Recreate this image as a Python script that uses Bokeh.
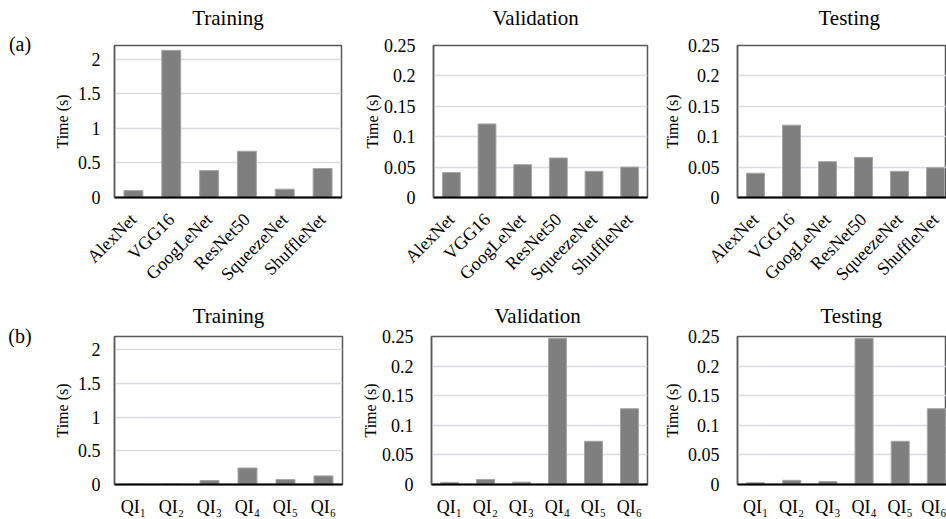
import math
from bokeh.plotting import figure
from bokeh.layouts import row, column
from bokeh.models import Range1d, FixedTicker, Div, Title
from bokeh.embed import file_html
from bokeh.resources import INLINE

FONT = "Liberation Serif"

# ---- data ----
models = ["AlexNet", "VGG16", "GoogLeNet", "ResNet50", "SqueezeNet", "ShuffleNet"]
train_a = [0.10, 2.13, 0.39, 0.67, 0.12, 0.42]
val_a = [0.041, 0.121, 0.054, 0.065, 0.043, 0.050]
test_a = [0.040, 0.119, 0.059, 0.066, 0.043, 0.049]

qi_labels = ["QI\u2081", "QI\u2082", "QI\u2083", "QI\u2084", "QI\u2085", "QI\u2086"]
train_b = [0.003, 0.008, 0.058, 0.245, 0.073, 0.128]
val_b = [0.0035, 0.0085, 0.004, 0.247, 0.073, 0.128]
test_b = [0.003, 0.007, 0.005, 0.247, 0.073, 0.128]

yticks_train = [0, 0.5, 1, 1.5, 2]
ylabels_train = ["0", "0.5", "1", "1.5", "2"]
yticks_vt = [0, 0.05, 0.1, 0.15, 0.2, 0.25]
ylabels_vt = ["0", "0.05", "0.1", "0.15", "0.2", "0.25"]


def make(title, cats, vals, ymax, yticks, ylabels, left, fw, right, top, fh, bottom,
         xend, rotate, spacer_px, title_standoff, title_offset, ylab_standoff,
         ymaj_standoff, xmaj_standoff):
    p = figure(width=left + fw + right, height=top + fh + bottom,
               min_border_left=left, min_border_right=right,
               min_border_top=top, min_border_bottom=bottom,
               x_range=Range1d(0, xend), y_range=Range1d(0, ymax),
               output_backend="svg", toolbar_location=None, tools="")
    xs = [i + 0.5 for i in range(len(cats))]
    p.vbar(x=xs, top=vals, width=0.5, fill_color="#7f7f7f",
           line_color="#a6a6a6", line_width=1)

    p.background_fill_color = "white"
    p.border_fill_color = "white"
    p.outline_line_color = "#595959"
    p.outline_line_width = 1.5

    # invisible spacer between frame and title
    p.add_layout(Title(text=" ", text_font=FONT, text_font_size=f"{spacer_px}px",
                       standoff=0), "above")

    p.title.text = title
    if title_offset is None:
        p.title.align = "center"
    else:
        p.title.align = "left"
        p.title.offset = title_offset
    p.title.text_font = FONT
    p.title.text_font_size = "21px"
    p.title.text_font_style = "normal"
    p.title.text_color = "black"
    p.title.standoff = title_standoff

    p.xgrid.visible = False
    p.ygrid.grid_line_color = "#d9dce1"
    p.ygrid.grid_line_width = 1.5

    p.xaxis.ticker = FixedTicker(ticks=xs)
    p.xaxis.major_label_overrides = {x: c for x, c in zip(xs, cats)}
    p.xaxis.major_label_text_font = FONT
    p.xaxis.major_label_text_font_size = "18px"
    p.xaxis.major_label_text_color = "black"
    p.xaxis.major_label_standoff = xmaj_standoff
    if rotate:
        p.xaxis.major_label_orientation = math.pi / 4
    p.xaxis.axis_line_color = "black"
    p.xaxis.axis_line_width = 2

    p.yaxis.ticker = FixedTicker(ticks=yticks)
    p.yaxis.major_label_overrides = {t: l for t, l in zip(yticks, ylabels)}
    p.yaxis.major_label_text_font = FONT
    p.yaxis.major_label_text_font_size = "18px"
    p.yaxis.major_label_text_color = "black"
    p.yaxis.major_label_standoff = ymaj_standoff
    p.yaxis.axis_line_color = "#595959"
    p.yaxis.axis_line_width = 1.5
    p.yaxis.axis_label = "Time (s)"
    p.yaxis.axis_label_text_font = FONT
    p.yaxis.axis_label_text_font_size = "16px"
    p.yaxis.axis_label_text_font_style = "normal"
    p.yaxis.axis_label_text_color = "black"
    p.yaxis.axis_label_standoff = ylab_standoff

    p.axis.major_tick_line_color = None
    p.axis.minor_tick_line_color = None
    p.axis.major_tick_out = 0
    p.axis.major_tick_in = 0
    p.axis.minor_tick_out = 0
    p.axis.minor_tick_in = 0
    return p


def tag(text, h, pad):
    return Div(text=text, width=40, height=h, margin=(0, 0, 0, 0),
               styles={"font-family": FONT, "font-size": "20px", "color": "black",
                       "text-align": "center", "padding-top": f"{pad}px",
                       "box-sizing": "border-box", "line-height": "23px"})


# top row (height 294: 45 + 152 + 97)
d1 = tag("(a)", 294, 33)
p1 = make("Training", models, train_a, 2.2, yticks_train, ylabels_train,
          74, 227, 19, 45, 152, 97, 6.0, True, 12, 0, None, 4, 14, 19)
p2 = make("Validation", models, val_a, 0.25, yticks_vt, ylabels_vt,
          71, 216, 13, 45, 152, 97, 6.0, True, 12, 0, 59, 0, 18, 19)
p3 = make("Testing", models, test_a, 0.25, yticks_vt, ylabels_vt,
          77, 209, 0, 45, 152, 97, 209 / 36.0, True, 12, 0, 81, 4, 18, 19)

# bottom row (height 225: 42 + 149 + 34)
d2 = tag("(b)", 225, 31)
p4 = make("Training", qi_labels, train_b, 2.2, yticks_train, ylabels_train,
          74, 228, 16, 42, 149, 34, 6.0, False, 6, 1, None, 4, 14, 12)
p5 = make("Validation", qi_labels, val_b, 0.25, yticks_vt, ylabels_vt,
          71, 218, 13, 42, 149, 34, 6.0, False, 6, 1, 63, 0, 18, 12)
p6 = make("Testing", qi_labels, test_b, 0.25, yticks_vt, ylabels_vt,
          76, 210, 0, 42, 149, 34, 210 / (218 / 6.0), False, 6, 1, 83, 4, 18, 12)

layout = column(row(d1, p1, p2, p3, spacing=0), row(d2, p4, p5, p6, spacing=0), spacing=0)

open("out.html", "w").write(file_html(layout, INLINE))
